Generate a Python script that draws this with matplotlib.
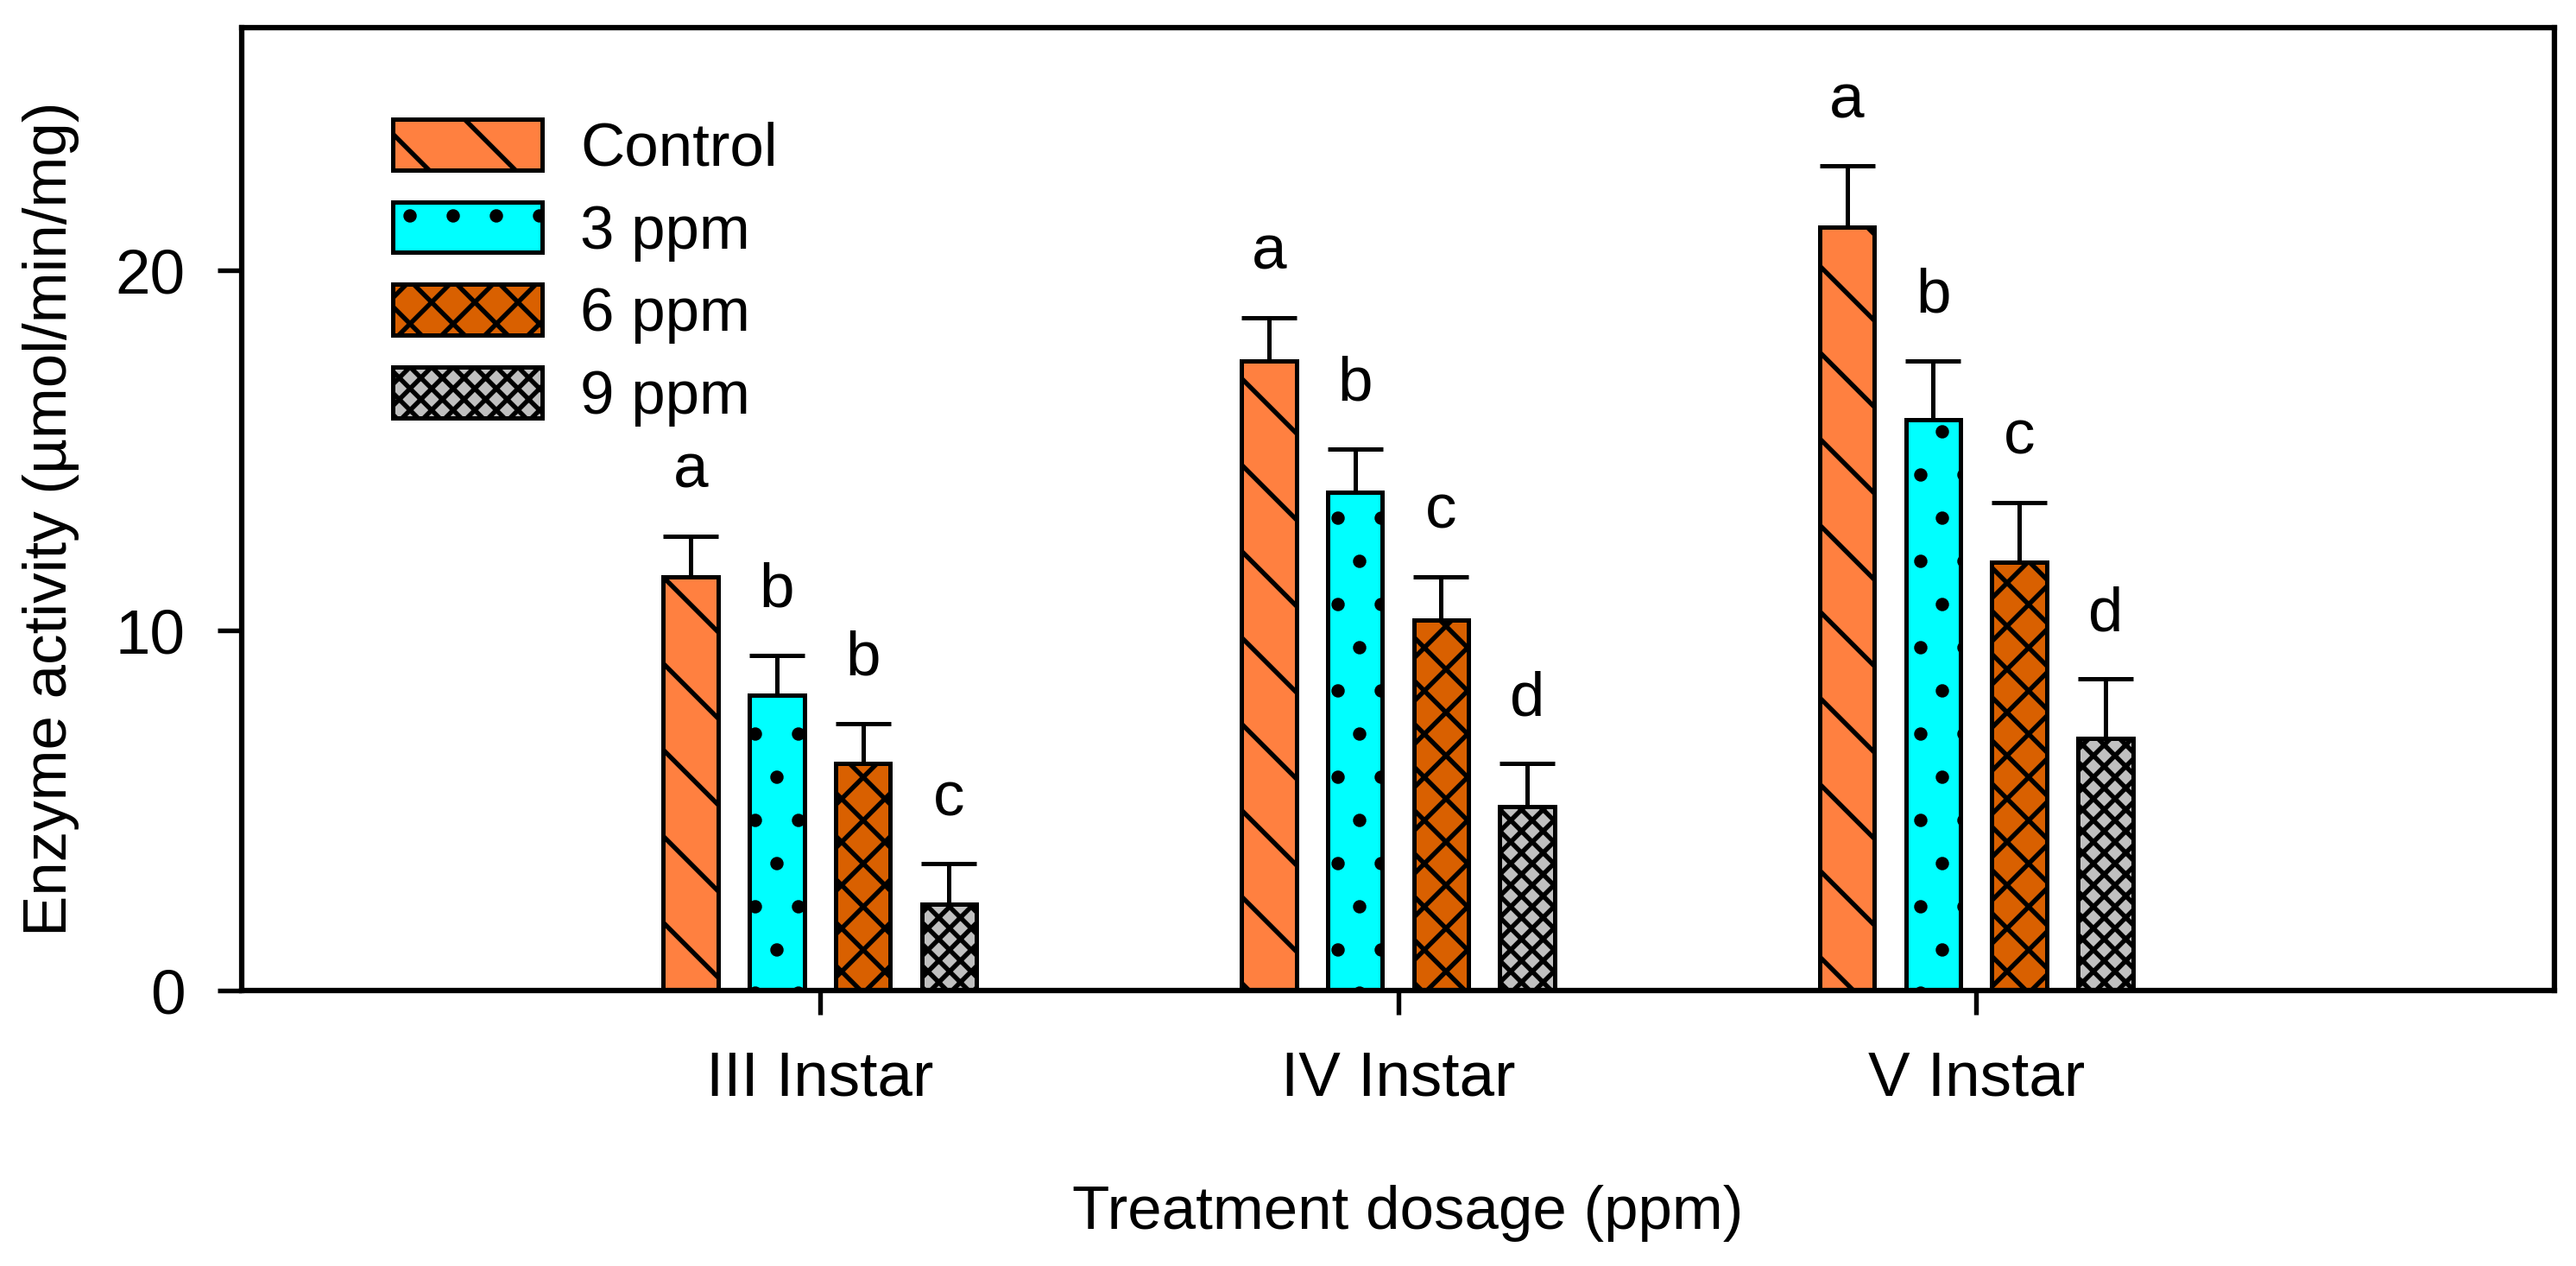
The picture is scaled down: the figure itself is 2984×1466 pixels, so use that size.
import numpy as np
import matplotlib
matplotlib.use("Agg")
import matplotlib.pyplot as plt

plt.rcParams['font.family'] = ['Liberation Sans', 'DejaVu Sans']
plt.rcParams['hatch.linewidth'] = 1.3

# data
stages = ["III Instar", "IV Instar", "V Instar"]
doses = ["Control", "3 ppm", "6 ppm", "9 ppm"]
control = [11.5, 17.5, 21.2]
ppm3 = [8.2, 13.85, 15.85]
ppm6 = [6.3, 10.3, 11.9]
ppm9 = [2.4, 5.1, 7.0]
control_err = [1.12, 1.2, 1.7]
ppm3_err = [1.12, 1.2, 1.65]
ppm6_err = [1.12, 1.2, 1.65]
ppm9_err = [1.12, 1.2, 1.65]
control_lbl = ["a", "a", "a"]
ppm3_lbl = ["b", "b", "b"]
ppm6_lbl = ["b", "c", "c"]
ppm9_lbl = ["c", "d", "d"]

means = [control, ppm3, ppm6, ppm9]
errs = [control_err, ppm3_err, ppm6_err, ppm9_err]
letters = [control_lbl, ppm3_lbl, ppm6_lbl, ppm9_lbl]
colors = ["#FF8040", "#00FFFF", "#D96000", "#C0C0C0"]
hatches = ["\\", ".", "xx", "xxxx"]

W, H, DPI = 2984, 1466, 300
fig = plt.figure(figsize=(W / DPI, H / DPI), dpi=DPI)
ax = fig.add_axes([280 / W, 1 - 1147 / H, (2959 - 280) / W, (1147 - 32) / H])

x = np.arange(len(stages))
pitch = 0.149
width = 0.095
fs = 17.5

for i, (m, e, lab) in enumerate(zip(means, errs, letters)):
    xs = x + (i - 1.5) * pitch
    ax.bar(xs, m, width, color=colors[i], edgecolor="black", linewidth=1.2,
           hatch=hatches[i], label=doses[i], zorder=2)
    ax.errorbar(xs, m, yerr=[np.zeros(len(m)), e], fmt="none", ecolor="black",
                elinewidth=1.2, capsize=7.6, capthick=1.2, zorder=3)
    for xx, mm, ee, t in zip(xs, m, e, lab):
        ax.text(xx, mm + ee + 1.35, t, ha="center", va="baseline", fontsize=fs)

ax.set_xlim(-1, 3)
ax.set_ylim(0, 26.75)
ax.set_xticks(x)
ax.set_xticklabels(stages)
ax.set_yticks([0, 10, 20])

for s in ax.spines.values():
    s.set_linewidth(1.5)
ax.tick_params(axis="both", direction="out", length=6.7, width=1.3, labelsize=fs)
ax.tick_params(axis="y", pad=9)
ax.tick_params(axis="x", pad=10)

ax.set_xlabel("Treatment dosage (ppm)", fontsize=17)
ax.set_ylabel("Enzyme activity (µmol/min/mg)", fontsize=17)
ax.xaxis.set_label_coords(0.504, -0.202)
ax.yaxis.set_label_coords(-0.070, 0.49)

ax.legend(loc="upper left", bbox_to_anchor=(0.0653, 0.905), frameon=False,
          fontsize=17, borderpad=0, borderaxespad=0, handlelength=2.45,
          handleheight=0.9, handletextpad=0.62, labelspacing=0.38)

fig.savefig("out.png", dpi=DPI)
